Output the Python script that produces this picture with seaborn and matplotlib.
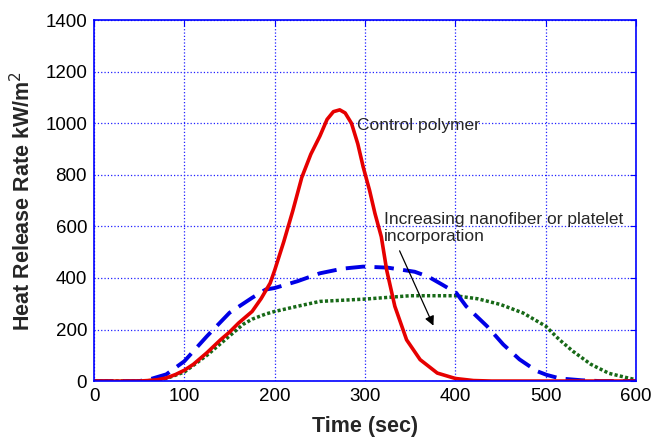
import numpy as np
import pandas as pd
import matplotlib
matplotlib.use("Agg")
import matplotlib.pyplot as plt
import seaborn as sns

# control polymer (red)
t_ctrl = [0, 50, 60, 70, 80, 90, 100, 110, 125, 140, 150, 160, 175, 185, 195, 200,
          210, 220, 230, 240, 250, 258, 265, 272, 278, 285, 292, 298, 305, 311, 318,
          324, 333, 346, 361, 380, 400, 420, 440, 500, 600]
hrr_ctrl = [0, 0, 2, 5, 12, 25, 42, 65, 110, 160, 190, 225, 270, 320, 380, 430,
            540, 660, 790, 880, 950, 1015, 1045, 1052, 1040, 1000, 920, 830, 740, 650, 560,
            430, 290, 160, 83, 31, 10, 2, 0, 0, 0]

# first nanocomposite (blue dashed)
t_nano1 = [0, 50, 60, 80, 100, 125, 150, 175, 190, 200, 225, 250, 275, 298, 325,
           355, 370, 385, 401, 412, 435, 453, 471, 490, 501, 516, 540, 560, 600]
hrr_nano1 = [0, 0, 5, 26, 77, 174, 265, 323, 355, 361, 387, 418, 436, 444, 440,
             424, 405, 375, 342, 290, 213, 142, 84, 39, 24, 10, 3, 0, 0]

# second nanocomposite (green dotted)
t_nano2 = [0, 55, 65, 80, 100, 125, 150, 165, 175, 190, 200, 225, 250, 300, 350,
           400, 425, 450, 475, 500, 515, 530, 550, 570, 590, 600]
hrr_nano2 = [0, 0, 3, 10, 35, 100, 175, 220, 240, 260, 270, 290, 309, 318, 331,
             331, 319, 297, 264, 213, 161, 116, 65, 30, 13, 5]

x_ticks = [0, 100, 200, 300, 400, 500, 600]
y_ticks = [0, 200, 400, 600, 800, 1000, 1200, 1400]

sns.set_style("white")
plt.rcParams['font.family'] = ['Liberation Sans', 'DejaVu Sans']

fig = plt.figure(figsize=(6.53, 4.38), dpi=100)
ax = fig.add_axes([0.144, 0.130, 0.830, 0.824])

sns.lineplot(x=t_nano2, y=hrr_nano2, ax=ax, color='#176917', lw=2.5,
             linestyle=(0, (0.9, 0.65)), dash_capstyle='butt')
sns.lineplot(x=t_nano1, y=hrr_nano1, ax=ax, color='#0000e6', lw=2.8,
             linestyle=(0, (5.0, 2.4)))
sns.lineplot(x=t_ctrl, y=hrr_ctrl, ax=ax, color='#e60000', lw=2.6)

ax.set_xlim(0, 600)
ax.set_ylim(0, 1400)
ax.set_xticks(x_ticks)
ax.set_yticks(y_ticks)
ax.grid(True, color='#2020ff', linestyle=':', linewidth=0.9)
for sp in ax.spines.values():
    sp.set_color('#0000ff')
    sp.set_linewidth(1.2)
ax.tick_params(direction='in', length=4, color='#0000ff', labelsize=13.5,
               labelcolor='black', top=True, right=True, pad=5)

ax.set_xlabel('Time (sec)', fontsize=15.5, fontweight='bold', labelpad=8)
ax.set_ylabel('Heat Release Rate kW/m$^2$', fontsize=15.5, fontweight='bold', labelpad=7)

ax.text(291, 993, 'Control polymer', fontsize=12.5, va='center', ha='left')
ax.text(321, 595, 'Increasing nanofiber or platelet\nincorporation', fontsize=12.5,
        va='center', ha='left', linespacing=1.15)
ax.annotate('', xy=(377, 205), xytext=(337, 515),
            arrowprops=dict(arrowstyle='-|>', color='black', lw=0.9,
                            mutation_scale=14))

fig.savefig('out.png', dpi=100)
